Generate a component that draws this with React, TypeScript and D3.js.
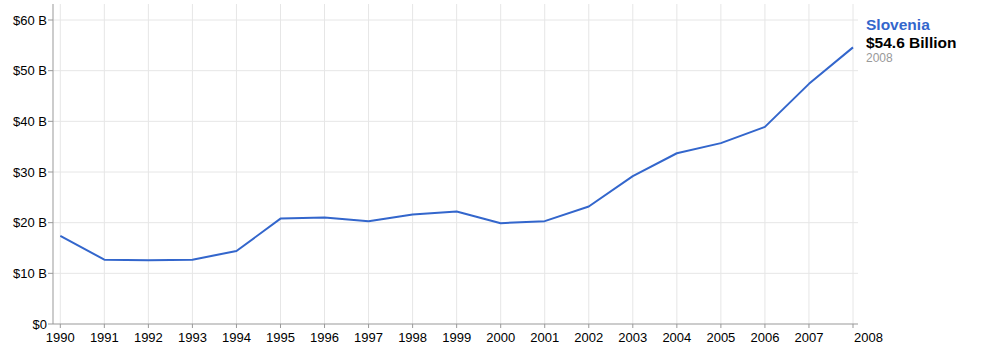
import React from "react";
import * as d3 from "d3";

const years = [1990,1991,1992,1993,1994,1995,1996,1997,1998,1999,2000,2001,2002,2003,2004,2005,2006,2007,2008];
const values = [17.4,12.7,12.6,12.7,14.4,20.8,21.0,20.3,21.6,22.2,19.9,20.3,23.2,29.2,33.7,35.7,38.9,47.4,54.6];
const yTicks = [0,10,20,30,40,50,60];
const seriesName = "Slovenia";
const lastLabel = "$54.6 Billion";
const lastYear = "2008";

const W = 1003, H = 348;
const FONT = "'Liberation Sans', Arial, sans-serif";

export default function App() {
  const x = d3.scaleLinear().domain([1990, 2008]).range([60.3, 853]);
  const y = d3.scaleLinear().domain([0, 60]).range([324, 20]);
  const line = d3.line<number>().x((_, i) => x(years[i])).y((d) => y(d));
  const axisLeft = 53;
  const axisRight = 858;
  const top = 4;
  const bottom = 324;
  const lastYr = years[years.length - 1];
  return (
    <svg width={W} height={H} style={{ position: "absolute", left: 0, top: 0 }} fontFamily={FONT}>
      <rect width={W} height={H} fill="#fff" />
      {years.map((yr) => (
        <line key={"vg" + yr} x1={x(yr)} x2={x(yr)} y1={top} y2={bottom} stroke="#e6e6e6" strokeWidth={1} />
      ))}
      {yTicks.filter((t) => t > 0).map((t) => (
        <line key={"hg" + t} x1={axisLeft} x2={axisRight} y1={y(t)} y2={y(t)} stroke="#e6e6e6" strokeWidth={1} />
      ))}
      <line x1={axisLeft} x2={axisLeft} y1={top} y2={bottom} stroke="#999" strokeWidth={1} />
      <line x1={axisLeft} x2={axisRight} y1={bottom} y2={bottom} stroke="#999" strokeWidth={1} />
      {yTicks.map((t) => (
        <g key={"yt" + t}>
          <line x1={axisLeft - 5} x2={axisLeft} y1={y(t)} y2={y(t)} stroke="#999" />
          <text x={axisLeft - 6} y={y(t) + 4.5} textAnchor="end" fontSize={13} fill="#000">
            {t === 0 ? "$0" : `$${t} B`}
          </text>
        </g>
      ))}
      {years.map((yr) => (
        <g key={"xt" + yr}>
          <line x1={x(yr)} x2={x(yr)} y1={bottom} y2={bottom + 4} stroke="#999" />
          <text
            x={yr === lastYr ? x(yr) + 1 : x(yr)}
            y={342}
            textAnchor={yr === lastYr ? "start" : "middle"}
            fontSize={13}
            fill="#000"
          >
            {yr}
          </text>
        </g>
      ))}
      <path d={line(values) || ""} fill="none" stroke="#3366cc" strokeWidth={2} strokeLinejoin="round" />
      <text x={866} y={30} fontSize={15.5} fontWeight="bold" fill="#3366cc">{seriesName}</text>
      <text x={866} y={47.5} fontSize={15.5} fontWeight="bold" fill="#000">{lastLabel}</text>
      <text x={866} y={62} fontSize={12} fill="#999">{lastYear}</text>
    </svg>
  );
}
